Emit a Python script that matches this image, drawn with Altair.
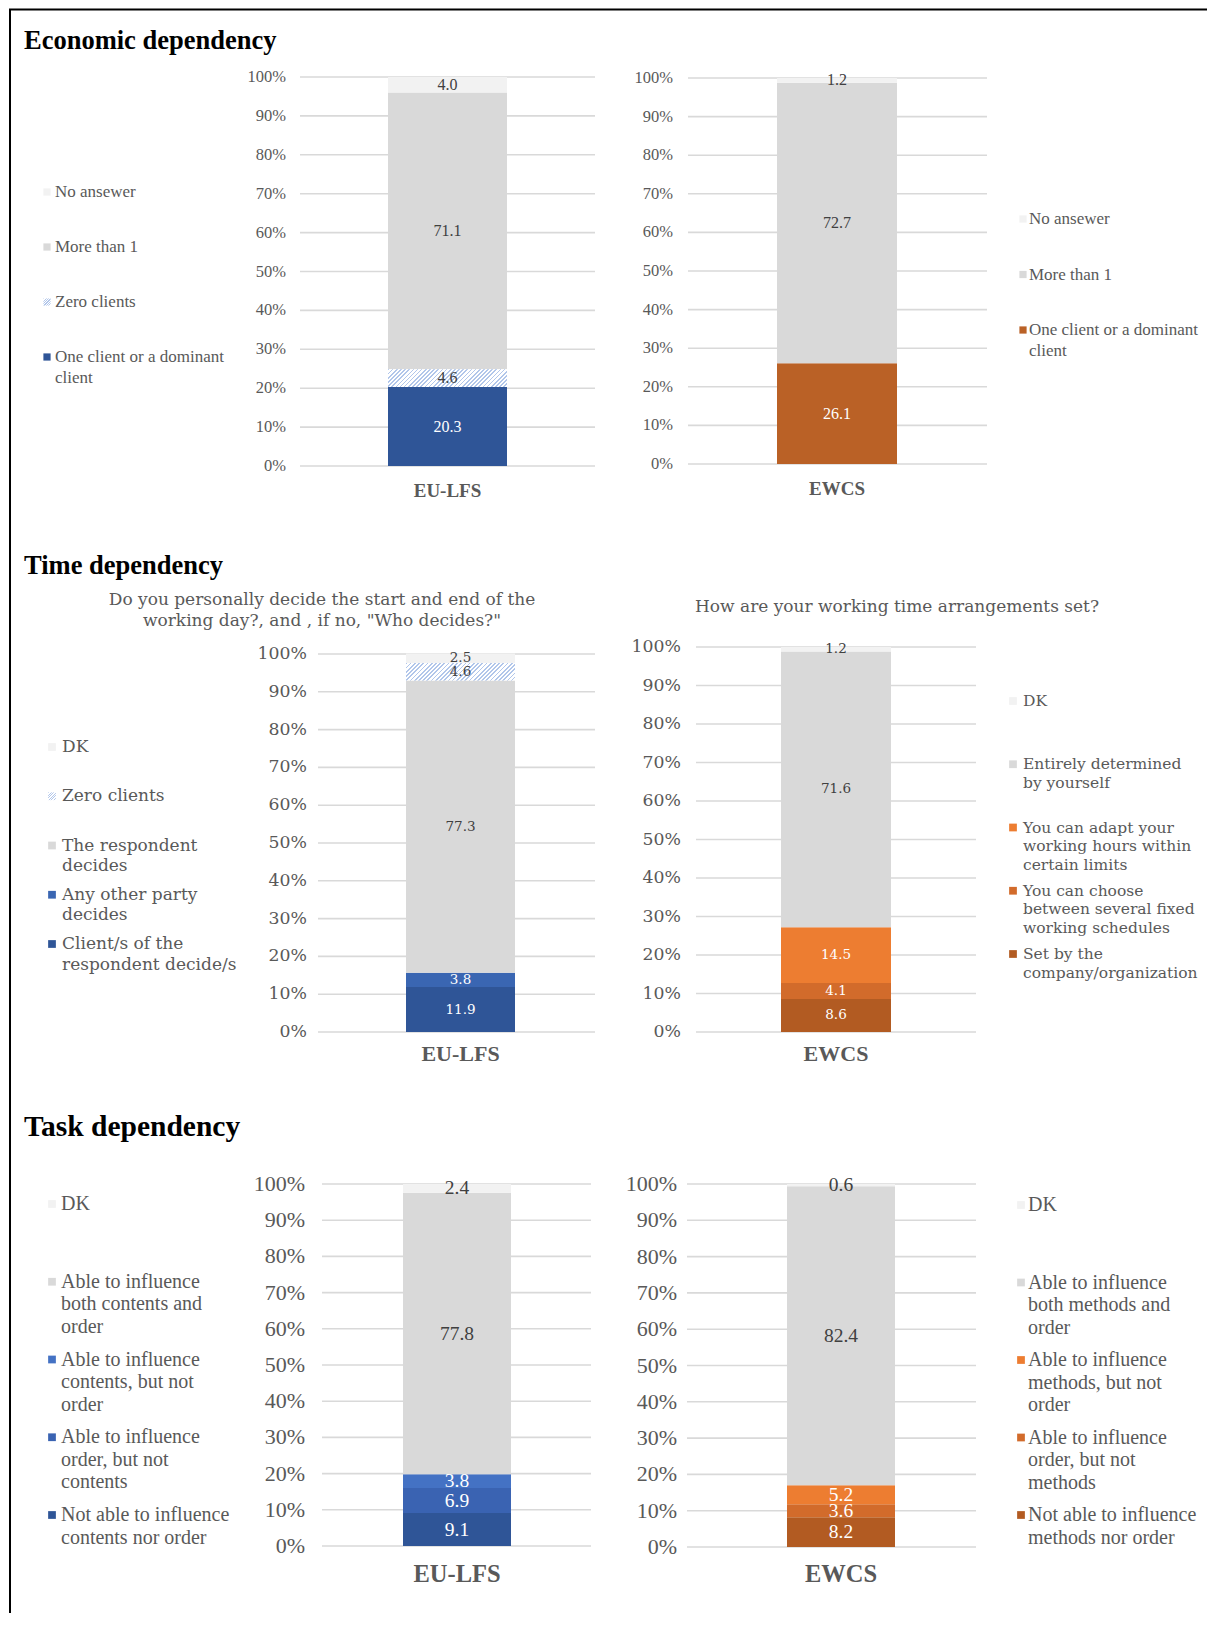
import altair as alt
import pandas as pd
import numpy as np

OFF = 8  # page margin: page coordinate -> chart coordinate

# ---------------- data ----------------
TICK_VALUES = [0, 10, 20, 30, 40, 50, 60, 70, 80, 90, 100]
TICK_LABELS = ["0%", "10%", "20%", "30%", "40%", "50%", "60%", "70%", "80%", "90%", "100%"]

SECTION_TITLES = ["Economic dependency", "Time dependency", "Task dependency"]
TIME_SUBTITLES = ['Do you personally decide the start and end of the\nworking day?, and , if no, "Who decides?"',
                  "How are your working time arrangements set?"]

# stacking order: bottom -> top
ECON_LFS_CATS = ["One client or a dominant client", "Zero clients", "More than 1", "No ansewer"]
ECON_LFS_VALS = [20.3, 4.6, 71.1, 4.0]
ECON_EWCS_CATS = ["One client or a dominant client", "More than 1", "No ansewer"]
ECON_EWCS_VALS = [26.1, 72.7, 1.2]

TIME_LFS_CATS = ["Client/s of the respondent decide/s", "Any other party decides",
                 "The respondent decides", "Zero clients", "DK"]
TIME_LFS_VALS = [11.9, 3.8, 77.3, 4.6, 2.5]
TIME_EWCS_CATS = ["Set by the company/organization",
                  "You can choose between several fixed working schedules",
                  "You can adapt your working hours within certain limits",
                  "Entirely determined by yourself", "DK"]
TIME_EWCS_VALS = [8.6, 4.1, 14.5, 71.6, 1.2]

TASK_LFS_CATS = ["Not able to influence contents nor order", "Able to influence order, but not contents",
                 "Able to influence contents, but not order", "Able to influence both contents and order", "DK"]
TASK_LFS_VALS = [9.1, 6.9, 3.8, 77.8, 2.4]
TASK_EWCS_CATS = ["Not able to influence methods nor order", "Able to influence order, but not methods",
                  "Able to influence methods, but not order", "Able to influence both methods and order", "DK"]
TASK_EWCS_VALS = [8.2, 3.6, 5.2, 82.4, 0.6]

# legend texts: top -> bottom
ECON_LFS_LEGEND = ["No ansewer", "More than 1", "Zero clients", "One client or a dominant\nclient"]
ECON_EWCS_LEGEND = ["No ansewer", "More than 1", "One client or a dominant\nclient"]
TIME_LFS_LEGEND = ["DK", "Zero clients", "The respondent\ndecides", "Any other party\ndecides",
                   "Client/s of the\nrespondent decide/s"]
TIME_EWCS_LEGEND = ["DK", "Entirely determined\nby yourself", "You can adapt your\nworking hours within\ncertain limits",
                    "You can choose\nbetween several fixed\nworking schedules", "Set by the\ncompany/organization"]
TASK_LFS_LEGEND = ["DK", "Able to influence\nboth contents and\norder", "Able to influence\ncontents, but not\norder",
                   "Able to influence\norder, but not\ncontents", "Not able to influence\ncontents nor order"]
TASK_EWCS_LEGEND = ["DK", "Able to influence\nboth methods and\norder", "Able to influence\nmethods, but not\norder",
                    "Able to influence\norder, but not\nmethods", "Not able to influence\nmethods nor order"]

# ---------------- styles ----------------
HATCH = "HATCH"
DK1 = "#F2F2F2"
GR = "#D9D9D9"
ECON_LFS_COLORS = ["#2F5597", HATCH, GR, DK1]
ECON_EWCS_COLORS = ["#BA6126", GR, DK1]
TIME_LFS_COLORS = ["#2F5597", "#3A66B2", GR, HATCH, DK1]
TIME_EWCS_COLORS = ["#B25B22", "#D26B2B", "#ED7D31", GR, DK1]
TASK_LFS_COLORS = ["#2F5597", "#3A63B2", "#4472C4", GR, DK1]
TASK_EWCS_COLORS = ["#B25B22", "#D26B2B", "#ED7D31", GR, DK1]

LABEL_DARK = "#404040"
AXIS_TXT = "#595959"


def hatch(w, h, period=4.2, frac=0.40, c1="#B1C6EA", c2="#FFFFFF"):
    L = w + h
    n = max(2, int(round(L / period)))
    c = L / (w * w + h * h)
    stops = []
    for i in range(n):
        a, b, e = i / n, (i + frac) / n, (i + 1) / n
        stops += [alt.GradientStop(color=c1, offset=a), alt.GradientStop(color=c1, offset=b),
                  alt.GradientStop(color=c2, offset=b), alt.GradientStop(color=c2, offset=e)]
    return alt.LinearGradient(gradient="linear", stops=stops, x1=0, y1=0, x2=w * c, y2=h * c)


def label_color(col):
    return LABEL_DARK if col in (GR, DK1, HATCH) else "#FFFFFF"


def bar_panel(survey, cats, vals, colors, g, f):
    v = np.array(vals, dtype=float)
    end = np.cumsum(v)
    start = end - v
    df = pd.DataFrame({
        "survey": [survey] * len(cats), "cat": cats, "start": start, "end": end,
        "mid": (start + end) / 2, "txt": [f"{x:.1f}" for x in vals],
        "color": [c if c != HATCH else "#FFFFFF" for c in colors],
        "lc": [label_color(c) for c in colors], "hatch": [c == HATCH for c in colors],
    })
    ys = alt.Scale(domain=[0, 100], range=[g["y0"] - OFF, g["y100"] - OFF], nice=False, zero=False)
    xs = alt.Scale(domain=[survey], range=[g["bar"][0] - OFF, g["bar"][1] - OFF],
                   paddingInner=0, paddingOuter=0)
    X = alt.X("survey:N", scale=xs, axis=None)
    ticks = pd.DataFrame({"t": TICK_VALUES, "lbl": TICK_LABELS})

    layers = []
    layers.append(alt.Chart(ticks).mark_rule(color="#D9D9D9", strokeWidth=1.6).encode(
        y=alt.Y("t:Q", scale=ys, axis=None),
        x=alt.value(g["grid"][0] - OFF), x2=alt.value(g["grid"][1] - OFF)))
    layers.append(alt.Chart(ticks).mark_text(align="right", baseline="middle", font=f["tick_font"],
                                             fontSize=f["tick_size"], color=AXIS_TXT).encode(
        y=alt.Y("t:Q", scale=ys, axis=None), x=alt.value(g["tick_x"] - OFF), text="lbl:N"))
    layers.append(alt.Chart(df[~df.hatch]).mark_bar().encode(
        x=X, y=alt.Y("start:Q", scale=ys, axis=None), y2="end:Q",
        color=alt.Color("color:N", scale=None)))
    hd = df[df.hatch]
    if len(hd):
        w = g["bar"][1] - g["bar"][0]
        h = float(hd["end"].iloc[0] - hd["start"].iloc[0]) / 100 * (g["y0"] - g["y100"])
        layers.append(alt.Chart(hd).mark_bar(fill=hatch(w, h)).encode(
            x=X, y=alt.Y("start:Q", scale=ys, axis=None), y2="end:Q"))
    layers.append(alt.Chart(df).mark_text(baseline="middle", font=f["lab_font"], fontSize=f["lab_size"]).encode(
        x=X, y=alt.Y("mid:Q", scale=ys, axis=None), text="txt:N", color=alt.Color("lc:N", scale=None)))
    layers.append(alt.Chart(df.iloc[:1]).mark_text(baseline="middle", font=f["cat_font"], fontSize=f["cat_size"],
                                                   fontWeight="bold", color=AXIS_TXT).encode(
        x=X, y=alt.value(g["cat_y"] - OFF), text="survey:N"))
    return alt.layer(*layers)


def legend(labels, colors, g, f):
    df = pd.DataFrame({"lab": labels, "color": [c if c != HATCH else "#FFFFFF" for c in colors],
                       "hatch": [c == HATCH for c in colors]})
    ys = alt.Scale(type="point", domain=labels, range=[g["y_first"] - OFF, g["y_last"] - OFF], padding=0)
    Y = alt.Y("lab:N", scale=ys, axis=None)
    layers = [alt.Chart(df[~df.hatch]).mark_square(size=g.get("sq", 60), opacity=1, filled=True).encode(
        x=alt.value(g["sq_x"] - OFF), y=Y, color=alt.Color("color:N", scale=None))]
    if df.hatch.any():
        layers.append(alt.Chart(df[df.hatch]).mark_square(size=g.get("sq", 60), opacity=1, filled=True,
                                                          fill=hatch(8, 8, period=2.6, frac=0.45)).encode(
            x=alt.value(g["sq_x"] - OFF), y=Y))
    layers.append(alt.Chart(df).mark_text(align="left", baseline="middle", lineBreak="\n",
                                          lineHeight=f["lh"], font=f["font"], fontSize=f["size"],
                                          color=AXIS_TXT).encode(
        x=alt.value(g["txt_x"] - OFF), y=Y, text="lab:N"))
    return alt.layer(*layers)


def text_item(txt, x, y, font, size, weight="normal", color="#000000", align="left", lh=None):
    props = dict(align=align, baseline="middle", font=font, fontSize=size, fontWeight=weight, color=color,
                 lineBreak="\n")
    if lh:
        props["lineHeight"] = lh
    return alt.Chart(pd.DataFrame({"t": [txt]})).mark_text(**props).encode(
        x=alt.value(x - OFF), y=alt.value(y - OFF), text="t:N")


SERIF = "Liberation Serif"
WIDE = "DejaVu Serif"

F_ECON = dict(tick_font=SERIF, tick_size=16.5, lab_font=SERIF, lab_size=16, cat_font=SERIF, cat_size=19)
F_TIME = dict(tick_font=WIDE, tick_size=17.3, lab_font=WIDE, lab_size=13.5, cat_font=SERIF, cat_size=22)
F_TASK = dict(tick_font=SERIF, tick_size=22, lab_font=SERIF, lab_size=19.5, cat_font=SERIF, cat_size=24.5)

layers = []
# frame
frame_df = pd.DataFrame({"a": [0]})
layers.append(alt.Chart(frame_df).mark_rule(color="#000000", strokeWidth=2).encode(
    x=alt.value(1), x2=alt.value(1199), y=alt.value(1.5)))
layers.append(alt.Chart(frame_df).mark_rule(color="#000000", strokeWidth=2).encode(
    x=alt.value(2), y=alt.value(1), y2=alt.value(1620)))

# titles
for t, y, s in zip(SECTION_TITLES, [41, 566, 1127], [26.5, 26.5, 29.5]):
    layers.append(text_item(t, 24, y, SERIF, s, weight="bold"))

layers.append(text_item(TIME_SUBTITLES[0], 322, 600, WIDE, 17, color=AXIS_TXT, align="center", lh=21))
layers.append(text_item(TIME_SUBTITLES[1], 897, 607, WIDE, 17, color=AXIS_TXT, align="center"))

# economic
layers.append(bar_panel("EU-LFS", ECON_LFS_CATS, ECON_LFS_VALS, ECON_LFS_COLORS,
                        dict(grid=(300, 595), y0=466, y100=77, bar=(388, 507), tick_x=286, cat_y=491), F_ECON))
layers.append(bar_panel("EWCS", ECON_EWCS_CATS, ECON_EWCS_VALS, ECON_EWCS_COLORS,
                        dict(grid=(688, 987), y0=464, y100=78, bar=(777, 897), tick_x=673, cat_y=489), F_ECON))
layers.append(legend(ECON_LFS_LEGEND, ECON_LFS_COLORS[::-1],
                     dict(y_first=192, y_last=357, sq_x=47, txt_x=55, sq=52), dict(lh=21, font=SERIF, size=17)))
layers.append(legend(ECON_EWCS_LEGEND, ECON_EWCS_COLORS[::-1],
                     dict(y_first=219, y_last=330, sq_x=1023, txt_x=1029, sq=52), dict(lh=21, font=SERIF, size=17)))

# time
layers.append(bar_panel("EU-LFS", TIME_LFS_CATS, TIME_LFS_VALS, TIME_LFS_COLORS,
                        dict(grid=(318, 595), y0=1032, y100=654, bar=(406, 515), tick_x=307, cat_y=1054), F_TIME))
layers.append(bar_panel("EWCS", TIME_EWCS_CATS, TIME_EWCS_VALS, TIME_EWCS_COLORS,
                        dict(grid=(696, 976), y0=1032, y100=647, bar=(781, 891), tick_x=681, cat_y=1054), F_TIME))
layers.append(legend(TIME_LFS_LEGEND, TIME_LFS_COLORS[::-1],
                     dict(y_first=747, y_last=944, sq_x=52, txt_x=62), dict(lh=20.5, font=WIDE, size=17)))
layers.append(legend(TIME_EWCS_LEGEND, TIME_EWCS_COLORS[::-1],
                     dict(y_first=701, y_last=954, sq_x=1013, txt_x=1023), dict(lh=18.5, font=WIDE, size=15.5)))

# task
layers.append(bar_panel("EU-LFS", TASK_LFS_CATS, TASK_LFS_VALS, TASK_LFS_COLORS,
                        dict(grid=(322, 591), y0=1546, y100=1184, bar=(403, 511), tick_x=305, cat_y=1575), F_TASK))
layers.append(bar_panel("EWCS", TASK_EWCS_CATS, TASK_EWCS_VALS, TASK_EWCS_COLORS,
                        dict(grid=(687, 976), y0=1547, y100=1184, bar=(787, 895), tick_x=677, cat_y=1575), F_TASK))
layers.append(legend(TASK_LFS_LEGEND, TASK_LFS_COLORS[::-1],
                     dict(y_first=1204, y_last=1515, sq_x=52, txt_x=61), dict(lh=22.5, font=SERIF, size=20)))
layers.append(legend(TASK_EWCS_LEGEND, TASK_EWCS_COLORS[::-1],
                     dict(y_first=1205, y_last=1515, sq_x=1021, txt_x=1028), dict(lh=22.5, font=SERIF, size=20)))

chart = alt.layer(*layers).resolve_scale(x="independent", y="independent").properties(
    width=1199, height=1605, padding=0, autosize="none", background="#FFFFFF"
).configure_view(stroke=None)

chart.save("out.html", embed_options={"renderer": "svg", "actions": False})
